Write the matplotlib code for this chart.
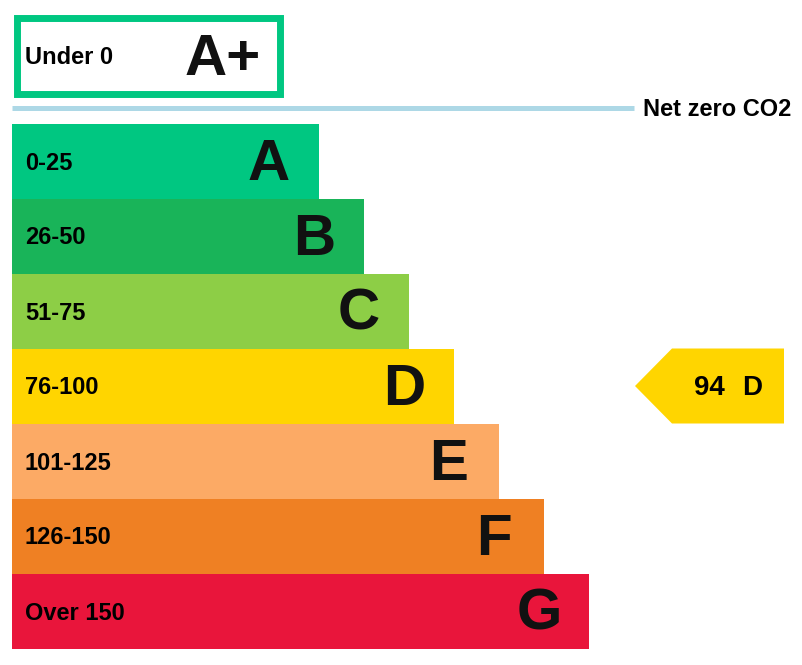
# epc_chart.py
# Energy rating bands with the current score marker

import matplotlib.pyplot as plt
from matplotlib.patches import Rectangle, Polygon

plt.rcParams['font.family'] = ['Liberation Sans', 'DejaVu Sans']

# data
bands = ['A', 'B', 'C', 'D', 'E', 'F', 'G']
ranges = ['0-25', '26-50', '51-75', '76-100', '101-125', '126-150', 'Over 150']
colors = ['#00c781', '#19b459', '#8dce46', '#ffd500', '#fcaa65', '#ef8023', '#e9153b']
top_band = 'A+'
top_range = 'Under 0'
line_label = 'Net zero CO2'
score = 94
score_band = 'D'

# canvas in pixel units
fig = plt.figure(figsize=(8.03, 6.65), dpi=100)
ax = fig.add_axes([0, 0, 1, 1])
ax.set_xlim(0, 803)
ax.set_ylim(665, 0)
ax.axis('off')

x0 = 12
row_h = 75
first_y = 161
lengths = [307 + 45 * i for i in range(len(bands))]
ys = [first_y + row_h * i for i in range(len(bands))]

ax.barh(ys, lengths, height=row_h, left=x0, color=colors, edgecolor='none')
for y, ln, b, r in zip(ys, lengths, bands, ranges):
    ax.text(25, y + 2, r, fontsize=17, fontweight='bold', va='center', ha='left')
    ax.text(x0 + ln - 50, y + 4, b, fontsize=42, fontweight='bold', va='center', ha='center', color='#111111')

# A+ box above the net zero line
ax.add_patch(Rectangle((17.5, 17.5), 263, 76, fill=False, edgecolor=colors[0], linewidth=5))
ax.text(25, 57, top_range, fontsize=17, fontweight='bold', va='center', ha='left')
ax.text(223, 60, top_band, fontsize=42, fontweight='bold', va='center', ha='center', color='#111111')

# net zero line
ax.plot([12, 634], [108, 108], color='#add8e6', linewidth=3.6, solid_capstyle='butt')
ax.text(643, 110, line_label, fontsize=17, fontweight='bold', va='center', ha='left')

# current score arrow
yi = ys[bands.index(score_band)]
ax.add_patch(Polygon([(635, yi), (672, yi - 37.5), (784, yi - 37.5), (784, yi + 37.5), (672, yi + 37.5)],
                     closed=True, color=colors[bands.index(score_band)], linewidth=0))
ax.text(709, yi + 2, str(score), fontsize=20, fontweight='bold', va='center', ha='center')
ax.text(752, yi + 2, score_band, fontsize=20, fontweight='bold', va='center', ha='center')

fig.savefig('out.png', dpi=100)
